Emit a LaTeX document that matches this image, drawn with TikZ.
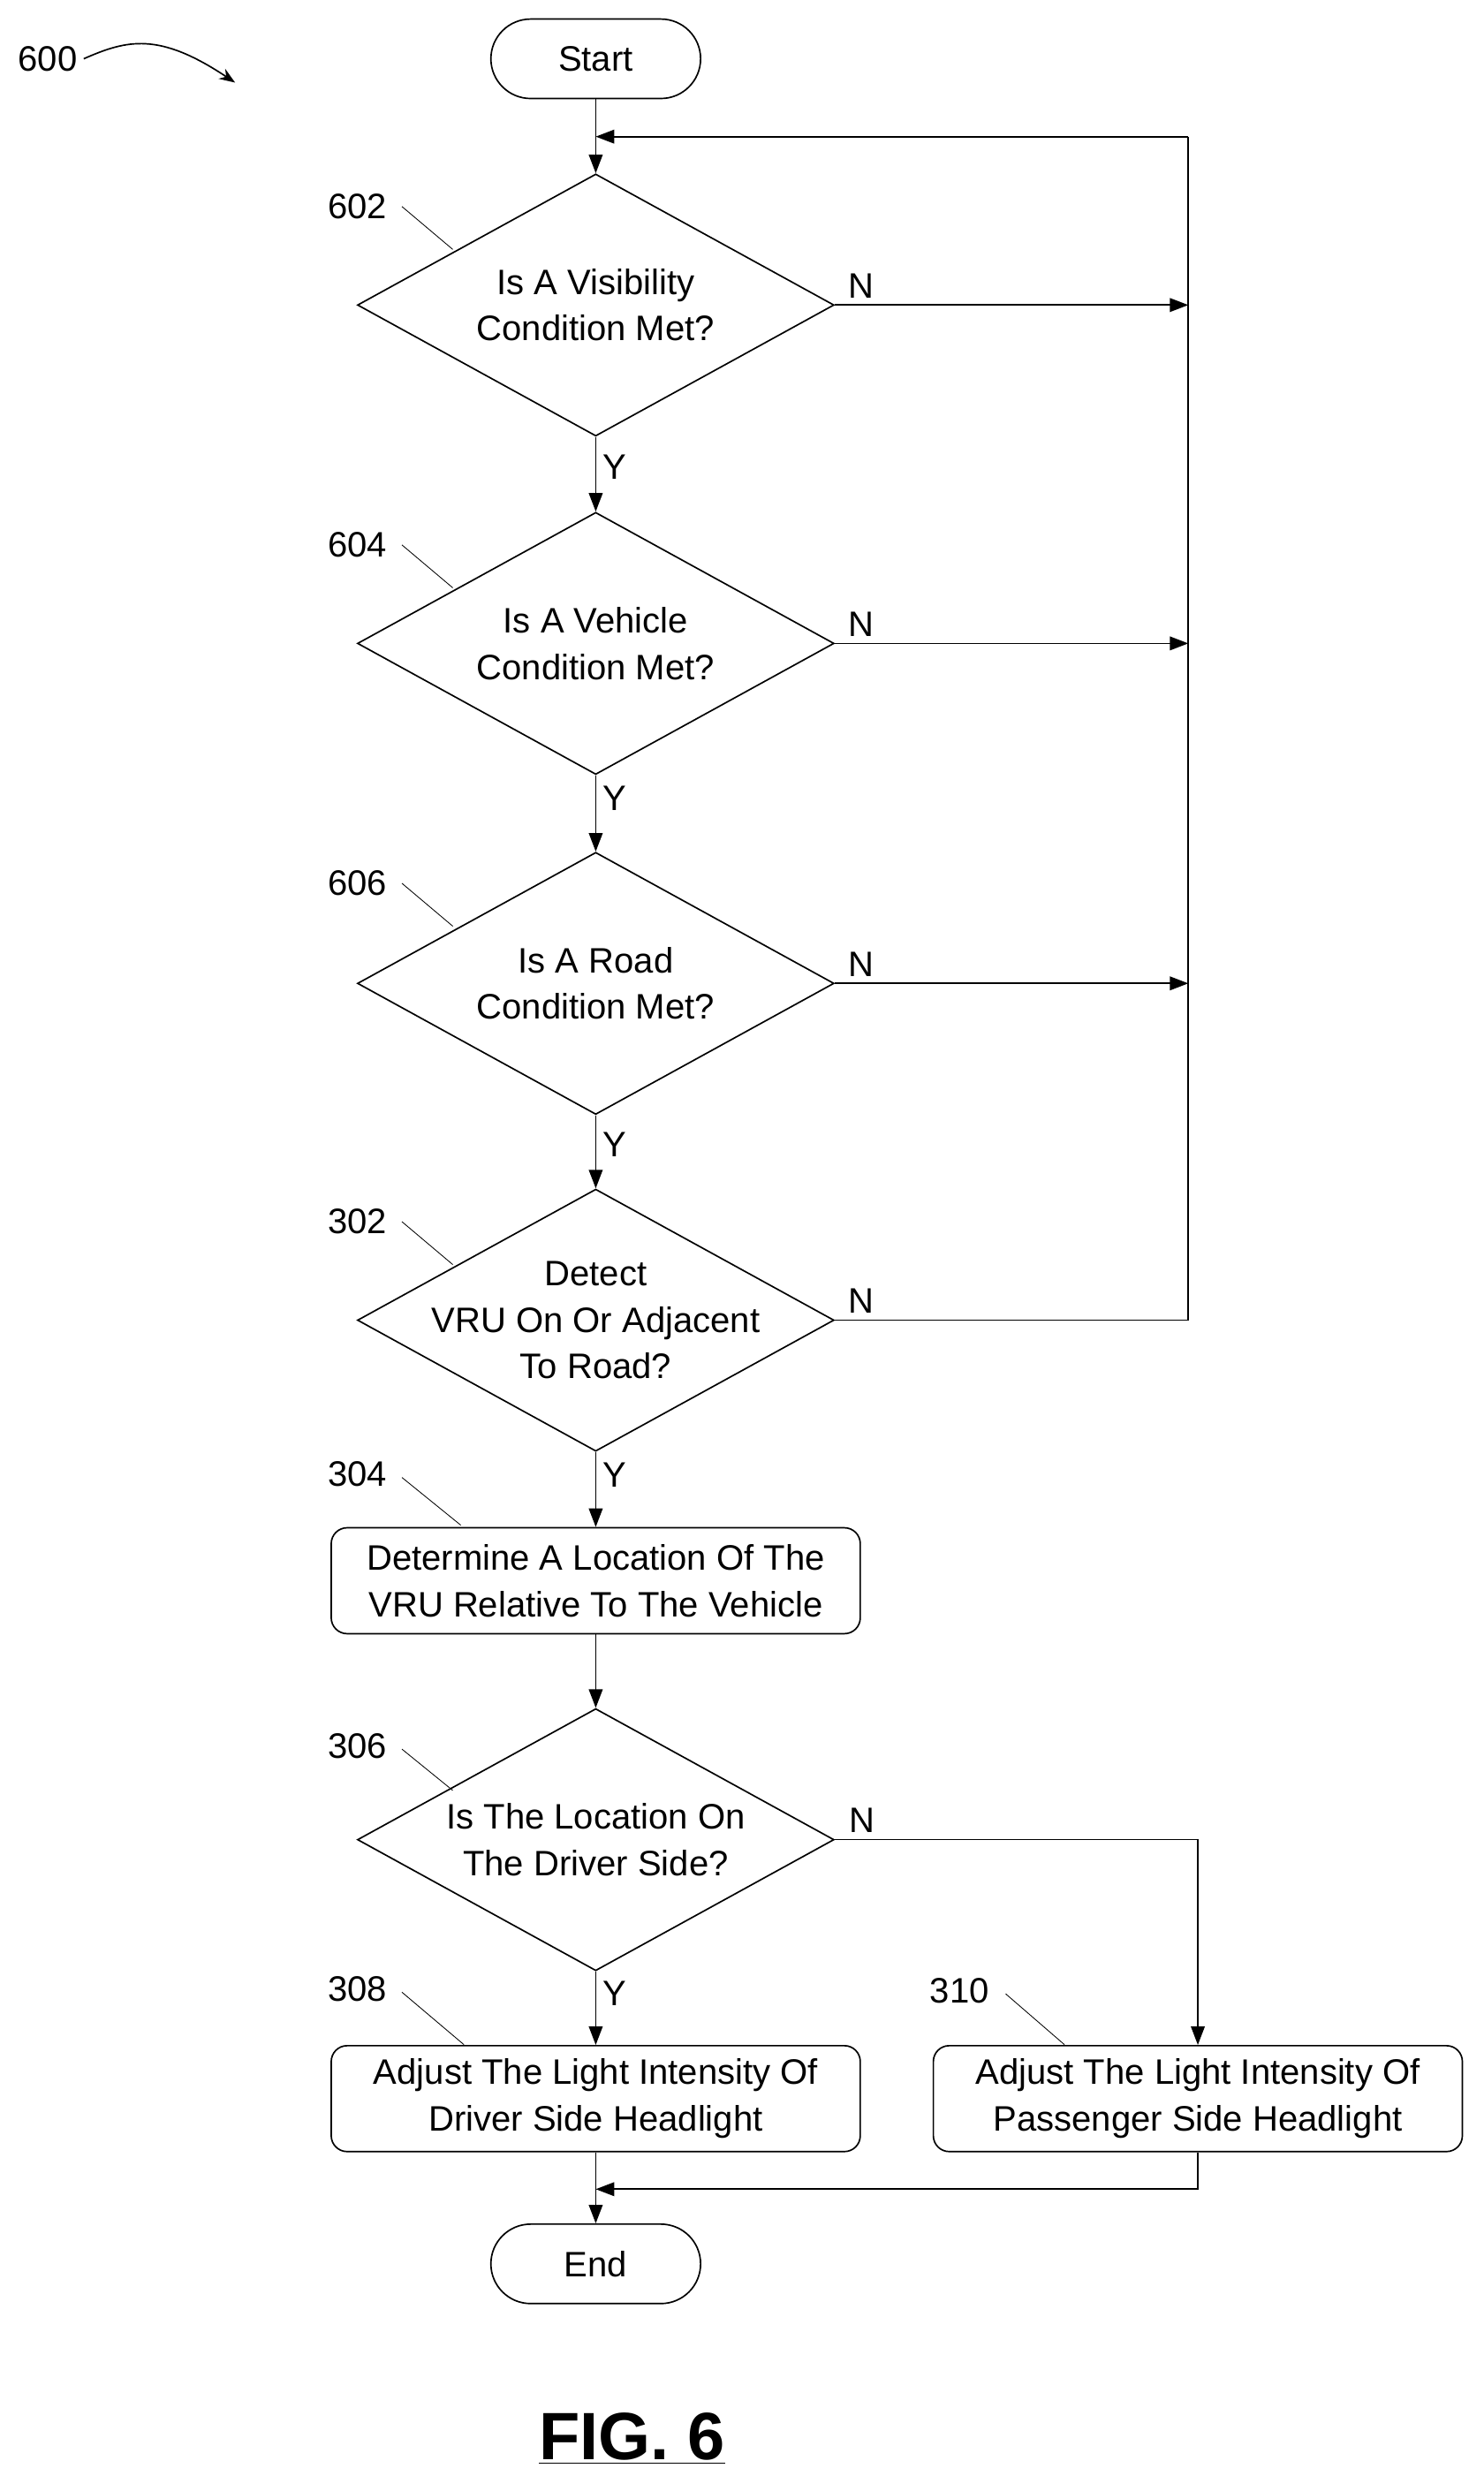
\documentclass[tikz,border=0pt]{standalone}
\usepackage{fontspec}
\setmainfont{Liberation Sans}
\usetikzlibrary{shapes.geometric,arrows.meta}
\tikzset{
  txt/.style={font=\fontsize{19}{25}\selectfont, align=center},
  term/.style={txt, draw, thick, rounded corners=0.75cm, minimum width=3.96cm, minimum height=1.5cm},
  proc/.style={txt, draw, thick, rounded corners=0.3cm, minimum width=9.99cm, minimum height=2cm, inner sep=0pt},
  test/.style={draw, thick, diamond, minimum width=9cm, minimum height=4.95cm, inner sep=0pt},
  ref/.style={font=\fontsize{19}{23}\selectfont},
  flow/.style={thick, -{Triangle[length=3.5mm,width=2.6mm]}},
}
\begin{document}
\begin{tikzpicture}[x=0.03cm, y=-0.03cm]
        \useasboundingbox (0,0) rectangle (934,1568);

        \node[term] (start) at (375,37) {Start};
        \node[test, label={[txt]center:Is A Visibility\\Condition Met?}] (vis) at (375,192) {};
        \node[test, label={[txt]center:Is A Vehicle\\Condition Met?}] (veh) at (375,405) {};
        \node[test, label={[txt]center:Is A Road\\Condition Met?}] (road) at (375,619) {};
        \node[test, label={[txt]center:Detect\\VRU On Or Adjacent\\To Road?}] (vru) at (375,831) {};
        \node[proc] (loc) at (375,995) {Determine A Location Of The\\VRU Relative To The Vehicle};
        \node[test, label={[txt]center:Is The Location On\\The Driver Side?}] (side) at (375,1158) {};
        \node[proc] (drv) at (375,1321) {Adjust The Light Intensity Of\\Driver Side Headlight};
        \node[proc] (pas) at (754,1321) {Adjust The Light Intensity Of\\Passenger Side Headlight};
        \node[term] (end) at (375,1425) {End};

        \coordinate (top) at (375,86);
        \coordinate (rt) at (748,86);
        \coordinate (merge) at (375,1378);

        % main line
        \draw[flow] (start) -- (vis);
        \draw[flow] (vis) -- node[ref, right, pos=0.4] {Y} (veh);
        \draw[flow] (veh) -- node[ref, right, pos=0.3] {Y} (road);
        \draw[flow] (road) -- node[ref, right, pos=0.4] {Y} (vru);
        \draw[flow] (vru) -- node[ref, right, pos=0.3] {Y} (loc);
        \draw[flow] (loc) -- (side);
        \draw[flow] (side) -- node[ref, right, pos=0.3] {Y} (drv);
        \draw[flow] (drv) -- (end);

        % N branches
        \draw[thick] (vru.east) -- node[ref, above right, pos=0.02] {N} (748,831) -- (rt);
        \draw[flow] (rt) -- (top);
        \draw[flow] (vis.east) -- node[ref, above right, pos=0.02] {N} (748,192);
        \draw[flow] (veh.east) -- node[ref, above right, pos=0.02] {N} (748,405);
        \draw[flow] (road.east) -- node[ref, above right, pos=0.02] {N} (748,619);
        \draw[flow] (side.east) -- node[ref, above right, pos=0.02] {N} (754,1158) -- (pas);
        \draw[flow] (pas.south) |- (merge);

        % reference numerals
        \node[ref] (n600) at (30,37) {600};
        \draw[thick, -{Stealth[length=3mm]}] (n600.east) .. controls (80,25) and (100,20) .. (148,52);
        \foreach \n/\y in {602/130, 604/343, 606/556, 302/769}
            \node[ref] at (225,\y) {\n};
        \foreach \y in {130, 343, 556, 769}
            \draw (253,\y) -- (285,\y+27);
        \node[ref] at (225,928) {304};
        \draw (253,930) -- (290,960);
        \node[ref] at (225,1099) {306};
        \draw (253,1101) -- (285,1127);
        \node[ref] at (225,1252) {308};
        \draw (253,1254) -- (292,1287);
        \node[ref] at (604,1253) {310};
        \draw (633,1255) -- (670,1287);

        \node[font=\fontsize{36}{40}\selectfont\bfseries] (fig) at (398,1535) {\underline{FIG. 6}};
\end{tikzpicture}
\end{document}
